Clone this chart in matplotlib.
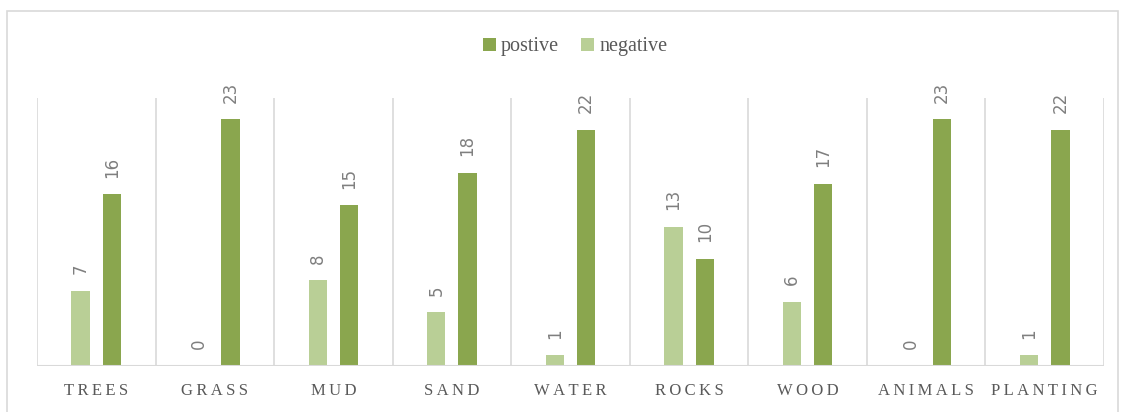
import matplotlib.pyplot as plt
import numpy as np
from matplotlib.patches import Rectangle

categories = ["TREES", "GRASS", "MUD", "SAND", "WATER", "ROCKS", "WOOD", "ANIMALS", "PLANTING"]
positive = [16, 23, 15, 18, 22, 10, 17, 23, 22]
negative = [7, 0, 8, 5, 1, 13, 6, 0, 1]

c_pos = "#8AA64E"
c_neg = "#B9CF96"
grid_c = "#D9D9D9"
txt_c = "#595959"
lbl_c = "#7F7F7F"

fig = plt.figure(figsize=(11.26, 4.12), dpi=100)
fig.patches.append(Rectangle((7/1126, -5/412), 1111/1126, 406/412, transform=fig.transFigure,
                             fill=False, edgecolor=grid_c, linewidth=1.2))
ax = fig.add_axes([37/1126, 46/412, 1067/1126, 268/412])

x = np.arange(len(categories))
w = 0.155
off = 0.132
b1 = ax.bar(x - off, negative, w, color=c_neg, label="negative", zorder=3)
b2 = ax.bar(x + off, positive, w, color=c_pos, label="postive", zorder=3)

for bars in (b1, b2):
    for r in bars:
        h = r.get_height()
        ax.annotate(f"{int(h)}", (r.get_x() + r.get_width()/2, h), xytext=(0, 12),
                    textcoords="offset points", rotation=90, ha="center", va="bottom",
                    fontsize=12, color=lbl_c, family="DejaVu Sans")

ax.set_xlim(-0.5, len(categories) - 0.5)
ax.set_ylim(0, 25)
for b in np.arange(-0.5, len(categories), 1.0):
    ax.axvline(b, color=grid_c, linewidth=1.2, zorder=1)
for s in ax.spines.values():
    s.set_visible(False)
ax.axhline(0, color=grid_c, linewidth=1.5, zorder=4)
ax.set_yticks([])
ax.set_xticks(x)
ax.set_xticklabels(["\u2009".join(c) for c in categories], family="Liberation Serif",
                   fontsize=12, color=txt_c)
ax.tick_params(axis="x", length=0, pad=12)

h, l = ax.get_legend_handles_labels()
fig.legend([h[1], h[0]], [l[1], l[0]], loc="center", bbox_to_anchor=(575/1126, 1 - 47/412),
           ncol=2, frameon=False, prop={"family": "Liberation Serif", "size": 14.5},
           labelcolor=txt_c, handlelength=0.65, handleheight=0.65, handletextpad=0.25,
           columnspacing=1.1)

fig.savefig("out.png", dpi=100)
